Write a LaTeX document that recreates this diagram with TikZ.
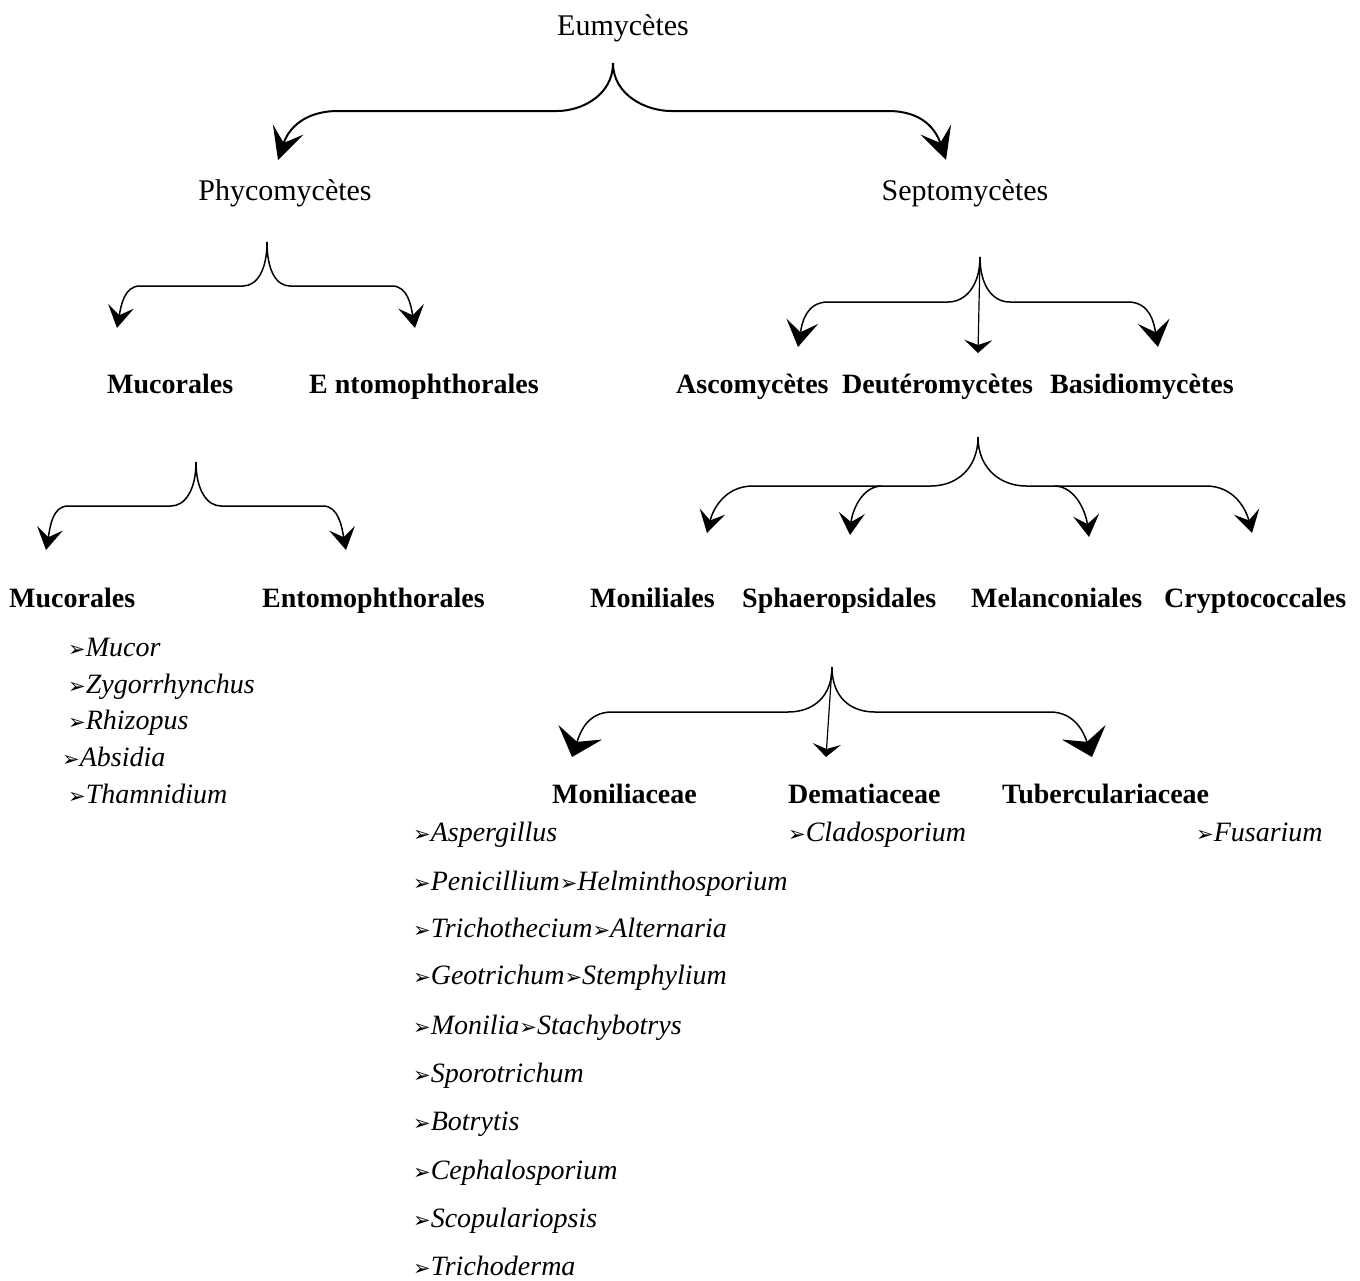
\documentclass[tikz,border=0pt]{standalone}
\usepackage{fontspec}
\setmainfont{Liberation Serif}
\newfontfamily\arrowfont{DejaVu Sans}
\usepackage{tikz}
\usetikzlibrary{arrows.meta}
\newcommand{\genus}[1]{{\arrowfont\fontsize{21}{28}\selectfont ➢}\textit{#1}}

\begin{document}
\begin{tikzpicture}[x=1pt,y=1pt,
  head/.style={font=\fontsize{30}{36}\selectfont, anchor=base},
  grp/.style={font=\fontsize{28}{34}\selectfont\bfseries, anchor=base west},
  gen/.style={font=\fontsize{28}{34}\selectfont, anchor=base west},
  arm/.style={black, line width=1.5pt},
  bigarm/.style={black, line width=2pt, -{Stealth[length=32pt,width=32pt,inset=14pt]}},
  midarm/.style={arm, -{Stealth[length=26pt,width=32pt,inset=11pt]}},
  smallarm/.style={arm, -{Stealth[length=22pt,width=26pt,inset=9pt]}},
  widearm/.style={arm, -{Stealth[length=26pt,width=46pt,inset=10pt]}},
  stem/.style={black, line width=1.2pt, -{Stealth[length=13pt,width=28pt,inset=5pt]}}]
\tikzstyle{every node}+=[inner sep=0pt]
\useasboundingbox (0,0) rectangle (1360,-1280);
% texts
\node [head] (eu) at (623,-35) {Eumycètes};
\node [head] (phy) at (285,-200) {Phycomycètes};
\node [head] (sep) at (965,-200) {Septomycètes};
\node [grp] (muc1) at (107,-393) {Mucorales};
\node [grp] (ent1) at (309,-393) {E\kern7pt ntomophthorales};
\node [grp] (asc) at (676,-393) {Ascomycètes};
\node [grp] (deu) at (842,-393) {Deutéromycètes};
\node [grp] (bas) at (1050,-393) {Basidiomycètes};
\node [grp] (muc2) at (9,-607) {Mucorales};
\node [grp] (ent2) at (262,-607) {Entomophthorales};
\node [grp] (mon) at (590,-607) {Moniliales};
\node [grp] (sph) at (742,-607) {Sphaeropsidales};
\node [grp] (mel) at (971,-607) {Melanconiales};
\node [grp] (cry) at (1164,-607) {Cryptococcales};
\node [gen] (mucor) at (68,-656) {\genus{Mucor}};
\node [gen] (zyg) at (68,-693) {\genus{Zygorrhynchus}};
\node [gen] (rhi) at (68,-729) {\genus{Rhizopus}};
\node [gen] (abs) at (62,-766) {\genus{Absidia}};
\node [gen] (tha) at (68,-803) {\genus{Thamnidium}};
\node [grp] (monc) at (552,-803) {Moniliaceae};
\node [grp] (dem) at (788,-803) {Dematiaceae};
\node [grp] (tub) at (1002,-803) {Tuberculariaceae};
\node [gen] (cla) at (788,-841) {\genus{Cladosporium}};
\node [gen] (fus) at (1196,-841) {\genus{Fusarium}};
\node [gen] (asp) at (413,-841) {\genus{Aspergillus}};
\node [gen] (pen) at (413,-890) {\genus{Penicillium}\genus{Helminthosporium}};
\node [gen] (tri) at (413,-937) {\genus{Trichothecium}\genus{Alternaria}};
\node [gen] (geo) at (413,-984) {\genus{Geotrichum}\genus{Stemphylium}};
\node [gen] (moni) at (413,-1034) {\genus{Monilia}\genus{Stachybotrys}};
\node [gen] (spo) at (413,-1082) {\genus{Sporotrichum}};
\node [gen] (bot) at (413,-1130) {\genus{Botrytis}};
\node [gen] (cep) at (413,-1179) {\genus{Cephalosporium}};
\node [gen] (sco) at (413,-1227) {\genus{Scopulariopsis}};
\node [gen] (trd) at (413,-1275) {\genus{Trichoderma}};
% cusps and arrow ends
\coordinate (euC) at (613,-63);
\coordinate (phyT) at (278,-160);
\coordinate (sepT) at (946,-160);
\coordinate (phyC) at (267,-242);
\coordinate (muc1T) at (117,-328);
\coordinate (ent1T) at (415,-328);
\coordinate (mucC) at (196,-462);
\coordinate (muc2T) at (46,-550);
\coordinate (ent2T) at (346,-550);
\coordinate (sepC) at (980,-257);
\coordinate (ascT) at (798,-347);
\coordinate (deuT) at (978,-353);
\coordinate (basT) at (1158,-347);
\coordinate (deuC) at (978,-437);
\coordinate (deuL) at (882,-486);
\coordinate (deuR) at (1054,-486);
\coordinate (monT) at (707,-533);
\coordinate (sphT) at (850,-535);
\coordinate (melT) at (1089,-537);
\coordinate (cryT) at (1252,-533);
\coordinate (sphC) at (832,-667);
\coordinate (moncT) at (572,-757);
\coordinate (demT) at (826,-757);
\coordinate (tubT) at (1092,-757);
% braces
\draw [bigarm] (euC) .. controls +(0,-32) and +(25,0) .. (557,-111) -- (338,-111) .. controls +(-35,0) and +(10,30) .. (phyT);
\draw [bigarm] (euC) .. controls +(0,-32) and +(-25,0) .. (671,-111) -- (888,-111) .. controls +(35,0) and +(-10,30) .. (sepT);
\draw [smallarm] (phyC) .. controls +(0,-28) and +(14,0) .. (243,-286) -- (140,-286) .. controls +(-16,0) and +(4,22) .. (muc1T);
\draw [smallarm] (phyC) .. controls +(0,-28) and +(-14,0) .. (290,-286) -- (392,-286) .. controls +(16,0) and +(-4,22) .. (ent1T);
\draw [smallarm] (mucC) .. controls +(0,-28) and +(14,0) .. (171,-506) -- (68,-506) .. controls +(-16,0) and +(4,22) .. (muc2T);
\draw [smallarm] (mucC) .. controls +(0,-28) and +(-14,0) .. (221,-506) -- (323,-506) .. controls +(16,0) and +(-4,22) .. (ent2T);
\draw [midarm] (sepC) .. controls +(0,-28) and +(18,0) .. (948,-302) -- (828,-302) .. controls +(-22,0) and +(4,24) .. (ascT);
\draw [stem] (sepC) -- (deuT);
\draw [midarm] (sepC) .. controls +(0,-28) and +(-18,0) .. (1010,-302) -- (1128,-302) .. controls +(22,0) and +(-4,24) .. (basT);
\draw [smallarm] (deuC) .. controls +(0,-32) and +(25,0) .. (931,-486) -- (753,-486) .. controls +(-28,0) and +(6,24) .. (monT);
\draw [smallarm] (deuL) .. controls +(-20,0) and +(2,24) .. (sphT);
\draw [smallarm] (deuC) .. controls +(0,-32) and +(-25,0) .. (1026,-486) -- (1206,-486) .. controls +(28,0) and +(-6,24) .. (cryT);
\draw [smallarm] (deuR) .. controls +(22,0) and +(-3,24) .. (melT);
\draw [widearm] (sphC) .. controls +(0,-30) and +(25,0) .. (788,-712) -- (612,-712) .. controls +(-25,0) and +(8,24) .. (moncT);
\draw [stem] (sphC) -- (demT);
\draw [widearm] (sphC) .. controls +(0,-30) and +(-25,0) .. (875,-712) -- (1050,-712) .. controls +(25,0) and +(-8,24) .. (tubT);
\end{tikzpicture}
\end{document}
